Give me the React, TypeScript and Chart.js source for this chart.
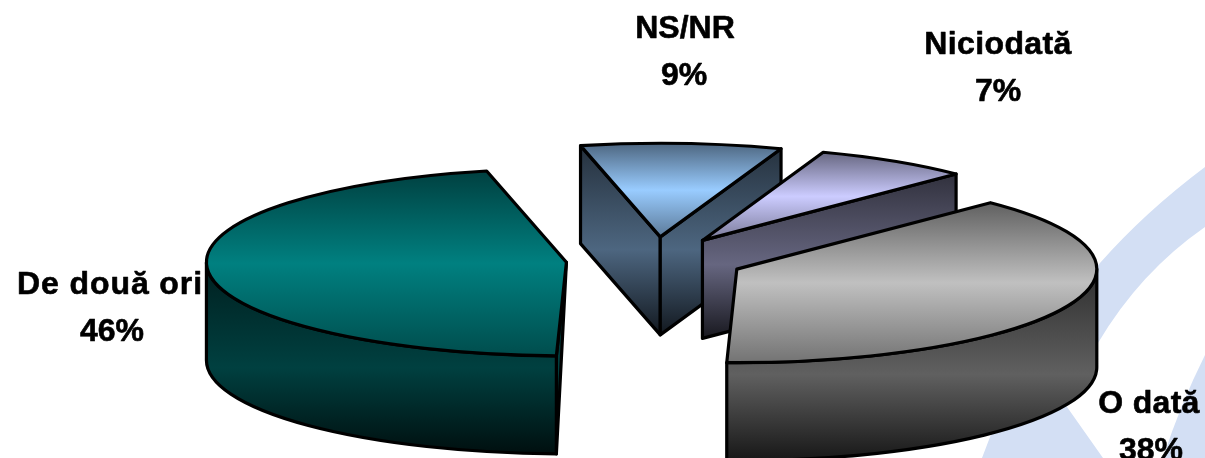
import React, { useEffect, useRef } from "react";
import { Chart, registerables } from "chart.js";

Chart.register(...registerables);

const categories = ["O dată", "De două ori", "NS/NR", "Niciodată"];
const values = [38, 46, 9, 7];
const percentLabels = ["38%", "46%", "9%", "7%"];
const colors = ["#c0c0c0", "#008080", "#99ccff", "#ccccff"];

const FONT = '"Liberation Sans", Arial, sans-serif';
const Y_SCALE = 0.26;
const DEPTH = 98;
const EXPLODE = 89;
const labelLayout = [
  { x: 1149, y1: 413, y2: 460, spacing: 0.3, px: 1151 },
  { x: 110, y1: 294, y2: 341, spacing: 0.9, px: 112 },
  { x: 685, y1: 38, y2: 85, spacing: 0, px: 684 },
  { x: 998, y1: 54, y2: 101, spacing: 0.4, px: 998 },
];

function shade(hex: string, f: number) {
  const n = parseInt(hex.slice(1), 16);
  const c = [(n >> 16) & 255, (n >> 8) & 255, n & 255].map((v) => Math.round(v * f));
  return `rgb(${c[0]},${c[1]},${c[2]})`;
}

function drawWatermark(ctx: CanvasRenderingContext2D) {
  ctx.save();
  ctx.fillStyle = "#d3dff4";
  ctx.beginPath();
  ctx.moveTo(1205, 167);
  ctx.quadraticCurveTo(1145, 212, 1100, 263);
  ctx.quadraticCurveTo(1020, 350, 982, 458);
  ctx.lineTo(1103, 458);
  ctx.lineTo(1060, 397);
  ctx.lineTo(1098, 343);
  ctx.quadraticCurveTo(1140, 272, 1205, 227);
  ctx.closePath();
  ctx.fill();
  ctx.beginPath();
  ctx.moveTo(1205, 355);
  ctx.quadraticCurveTo(1180, 405, 1163, 458);
  ctx.lineTo(1205, 458);
  ctx.closePath();
  ctx.fill();
  ctx.restore();
}

const pie3d = {
  id: "pie3d",
  beforeDatasetsDraw(chart: any) {
    drawWatermark(chart.ctx);
  },
  beforeDatasetDraw(chart: any, args: any) {
    const ctx: CanvasRenderingContext2D = chart.ctx;
    const meta = args.meta;
    const TAU = Math.PI * 2;
    const slices = meta.data.map((arc: any, i: number) => {
      const p = arc.getProps(["x", "y", "startAngle", "endAngle", "outerRadius"], true);
      const mid = (p.startAngle + p.endAngle) / 2;
      const off = arc.options.offset;
      return {
        i,
        start: p.startAngle,
        end: p.endAngle,
        r: p.outerRadius,
        ax: p.x + Math.cos(mid) * off,
        ay: p.y + Math.sin(mid) * off * Y_SCALE,
      };
    });
    slices.sort((a: any, b: any) => a.ay - b.ay);

    ctx.save();
    ctx.lineWidth = 3.2;
    ctx.lineJoin = "round";
    ctx.strokeStyle = "#000";
    for (const s of slices) {
      const base = colors[s.i];
      const ry = s.r * Y_SCALE;
      const pt = (a: number) => ({ x: s.ax + Math.cos(a) * s.r, y: s.ay + Math.sin(a) * ry });
      const ps = pt(s.start);
      const pe = pt(s.end);
      const walls: Array<() => void> = [];
      const wallTops: number[] = [];

      const face = (rim: { x: number; y: number }) => {
        wallTops.push(s.ay, rim.y);
        walls.push(() => {
          ctx.beginPath();
          ctx.moveTo(s.ax, s.ay);
          ctx.lineTo(rim.x, rim.y);
          ctx.lineTo(rim.x, rim.y + DEPTH);
          if (Math.abs(rim.x - s.ax) > 20) ctx.lineTo(s.ax, s.ay + DEPTH);
          ctx.closePath();
        });
      };
      if (Math.sin(s.start - Math.PI / 2) > 0) face(ps);
      if (Math.sin(s.end + Math.PI / 2) > 0) face(pe);

      for (const n of [-TAU, 0, TAU]) {
        const a = Math.max(s.start, n);
        const b = Math.min(s.end, n + Math.PI);
        if (a < b) {
          wallTops.push(pt(a).y, pt(b).y);
          walls.push(() => {
            ctx.beginPath();
            ctx.ellipse(s.ax, s.ay, s.r, ry, 0, a, b);
            ctx.lineTo(pt(b).x, pt(b).y + DEPTH);
            ctx.ellipse(s.ax, s.ay + DEPTH, s.r, ry, 0, b, a, true);
            ctx.closePath();
          });
        }
      }

      if (walls.length) {
        const g = ctx.createLinearGradient(0, Math.min(...wallTops), 0, Math.max(...wallTops) + DEPTH);
        g.addColorStop(0, shade(base, 0.24));
        g.addColorStop(0.55, shade(base, 0.5));
        g.addColorStop(1, shade(base, 0.12));
        for (const w of walls) {
          w();
          ctx.fillStyle = g;
          ctx.fill();
          ctx.stroke();
        }
      }

      const ys = [s.ay, ps.y, pe.y];
      for (const a of [Math.PI / 2, -Math.PI / 2]) {
        for (const n of [-TAU, 0, TAU]) {
          if (a + n > s.start && a + n < s.end) ys.push(pt(a).y);
        }
      }
      const top = ctx.createLinearGradient(0, Math.min(...ys), 0, Math.max(...ys));
      top.addColorStop(0, shade(base, 0.5));
      top.addColorStop(0.5, shade(base, 1));
      top.addColorStop(1, shade(base, 0.6));
      ctx.beginPath();
      ctx.moveTo(s.ax, s.ay);
      ctx.ellipse(s.ax, s.ay, s.r, ry, 0, s.start, s.end);
      ctx.closePath();
      ctx.fillStyle = top;
      ctx.fill();
      ctx.stroke();
    }
    ctx.restore();
    return false;
  },
  afterDatasetsDraw(chart: any) {
    const ctx: any = chart.ctx;
    ctx.save();
    ctx.fillStyle = "#000";
    ctx.strokeStyle = "#000";
    ctx.lineWidth = 0.6;
    ctx.lineJoin = "round";
    ctx.textAlign = "center";
    ctx.textBaseline = "alphabetic";
    ctx.font = `bold 32px ${FONT}`;
    categories.forEach((c, i) => {
      const l = labelLayout[i];
      ctx.letterSpacing = `${l.spacing}px`;
      ctx.fillText(c, l.x, l.y1);
      ctx.strokeText(c, l.x, l.y1);
      ctx.letterSpacing = "0px";
      ctx.fillText(percentLabels[i], l.px, l.y2);
      ctx.strokeText(percentLabels[i], l.px, l.y2);
    });
    ctx.restore();
  },
};

export default function App() {
  const ref = useRef<HTMLCanvasElement>(null);
  useEffect(() => {
    const chart = new Chart(ref.current!, {
      type: "pie",
      data: {
        labels: categories,
        datasets: [{ data: values, backgroundColor: colors, offset: EXPLODE, borderWidth: 0 }],
      },
      options: {
        animation: false,
        responsive: false,
        radius: 360,
        rotation: 44.8,
        layout: { padding: { left: 105, top: 62 } },
        plugins: { legend: { display: false }, tooltip: { enabled: false } },
      } as any,
      plugins: [pie3d as any],
    });
    return () => chart.destroy();
  }, []);
  return (
    <div style={{ position: "absolute", left: 0, top: 0, width: 1205, height: 458, background: "#fff", overflow: "hidden" }}>
      <canvas ref={ref} width={1205} height={458} style={{ display: "block" }} />
    </div>
  );
}
